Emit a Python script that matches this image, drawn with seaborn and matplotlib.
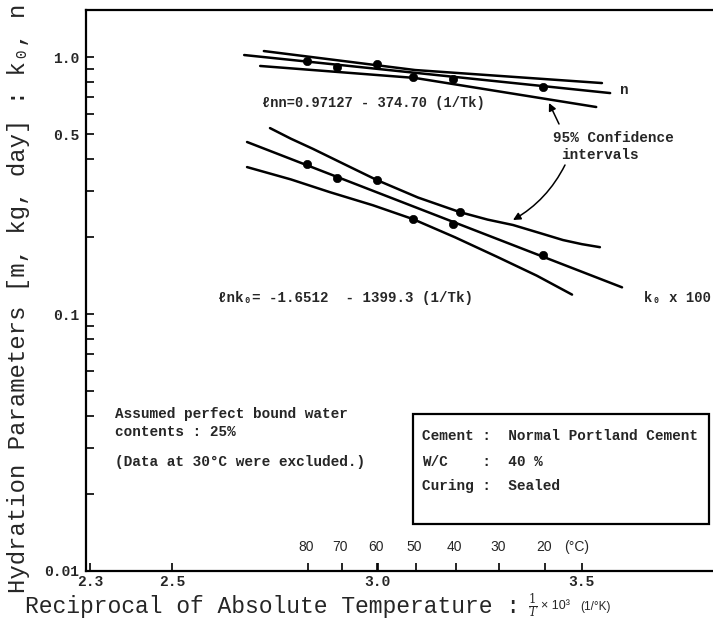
import matplotlib
matplotlib.use("Agg")
import matplotlib.pyplot as plt
import seaborn as sns
import numpy as np
import pandas as pd
from matplotlib.patches import Rectangle
from matplotlib.ticker import FixedLocator, FixedFormatter, NullFormatter
import matplotlib.transforms as mtransforms

# ---------------- data ----------------
temps_c = [80, 70, 60, 50, 40, 30, 20]
temp_labels = ["80", "70", "60", "50", "40", "30", "20"]

# n : measured points
n_x = [2.829, 2.902, 3.000, 3.088, 3.186, 3.405]
n_y = [0.965, 0.914, 0.939, 0.836, 0.821, 0.764]
# n : regression line and 95% confidence limits
n_fit_x = [2.676, 3.569]
n_fit_y = [1.018, 0.724]
n_up_x = [2.724, 3.093, 3.549]
n_up_y = [1.055, 0.890, 0.792]
n_lo_x = [2.715, 3.093, 3.535]
n_lo_y = [0.923, 0.829, 0.639]

# k0 x 100 : measured points
k_x = [2.829, 2.902, 3.000, 3.088, 3.186, 3.203, 3.405]
k_y = [0.384, 0.338, 0.332, 0.234, 0.224, 0.249, 0.170]
# k0 : regression line and 95% confidence limits
k_fit_x = [2.683, 3.598]
k_fit_y = [0.467, 0.127]
k_up_x = [2.739, 2.790, 2.844, 2.920, 3.000, 3.100, 3.203, 3.270, 3.332, 3.400, 3.454, 3.500, 3.544]
k_up_y = [0.529, 0.481, 0.439, 0.383, 0.332, 0.284, 0.249, 0.233, 0.222, 0.206, 0.194, 0.187, 0.182]
k_lo_x = [2.683, 2.790, 2.885, 2.990, 3.088, 3.190, 3.293, 3.390, 3.476]
k_lo_y = [0.373, 0.334, 0.298, 0.265, 0.234, 0.199, 0.167, 0.141, 0.119]

x_major = [2.3, 2.5, 3.0, 3.5]
x_major_labels = ["2.3", "2.5", "3.0", "3.5"]
y_labeled = [0.01, 0.1, 0.5, 1.0]
y_labeled_text = ["0.01", "0.1", "0.5", "1.0"]

# ---------------- style ----------------
sns.set_style("ticks")
MONO = ["Liberation Mono", "DejaVu Sans Mono"]
SANS = ["Liberation Sans", "DejaVu Sans"]
plt.rcParams["font.family"] = MONO
plt.rcParams["mathtext.fontset"] = "dejavuserif"

W, H = 713, 632
fig = plt.figure(figsize=(W / 100, H / 100), dpi=100)
L, T, R, B = 86, 10, 713, 571
ax = fig.add_axes([L / W, 1 - B / H, (R - L) / W, (B - T) / H])

ax.set_yscale("log")
ax.set_xlim(2.29, 3.82)
ax.set_ylim(0.01, 1.524)

lw = 1.8
def line(xs, ys):
    sns.lineplot(x=xs, y=ys, ax=ax, color="black", lw=lw, sort=False,
                 estimator=None, legend=False)

for xs, ys in [(n_fit_x, n_fit_y), (n_up_x, n_up_y), (n_lo_x, n_lo_y),
               (k_fit_x, k_fit_y), (k_up_x, k_up_y), (k_lo_x, k_lo_y)]:
    line(xs, ys)

sns.scatterplot(x=n_x, y=n_y, ax=ax, color="black", s=36, edgecolor="black",
                zorder=5, legend=False)
sns.scatterplot(x=k_x, y=k_y, ax=ax, color="black", s=36, edgecolor="black",
                zorder=5, legend=False)

# ---------------- axes & ticks ----------------
ax.spines["right"].set_visible(False)
for s in ["left", "top", "bottom"]:
    ax.spines[s].set_linewidth(1.6)
    ax.spines[s].set_color("black")

temp_x = [1000.0 / (t + 273.15) for t in temps_c]
ax.xaxis.set_major_locator(FixedLocator(x_major))
ax.xaxis.set_major_formatter(FixedFormatter(x_major_labels))
ax.xaxis.set_minor_locator(FixedLocator(temp_x))
ax.xaxis.set_minor_formatter(NullFormatter())

y_minor = [m * 10.0 ** e for e in (-2, -1) for m in range(2, 10)]
y_minor = [v for v in y_minor if abs(v - 0.5) > 1e-9]
ax.yaxis.set_major_locator(FixedLocator(y_labeled))
ax.yaxis.set_major_formatter(FixedFormatter(y_labeled_text))
ax.yaxis.set_minor_locator(FixedLocator(y_minor))
ax.yaxis.set_minor_formatter(NullFormatter())

ax.tick_params(axis="both", which="both", direction="in", color="black",
               width=1.2, top=False, right=False)
ax.tick_params(axis="both", which="major", length=6)
ax.tick_params(axis="both", which="minor", length=6)
ax.tick_params(axis="y", which="major", pad=5, labelsize=10.5)
ax.tick_params(axis="x", which="major", pad=3, labelsize=10.5)
for lab in ax.get_xticklabels() + ax.get_yticklabels():
    lab.set_fontweight("bold")
    lab.set_family(MONO)

# temperature labels along the bottom
blend = mtransforms.blended_transform_factory(ax.transData, ax.transAxes)
for tx, tl in zip(temp_x, temp_labels):
    ax.text(tx - 0.004, 0.042, tl, transform=blend, ha="center", va="center",
            fontsize=10, family=SANS)
ax.text(3.488, 0.042, "(°C)", transform=blend, ha="center", va="center",
        fontsize=10, family=SANS)

# ---------------- annotations ----------------
def axpx(px, py):
    return ((px - L) / (R - L), (B - py) / (B - T))

txt = dict(transform=ax.transAxes, fontsize=10.4, family=MONO, fontweight="bold",
           va="center")
ax.text(*axpx(262, 103), "ℓnn=0.97127 - 374.70 (1/Tk)", ha="left",
        **dict(txt, fontsize=9.9))
ax.text(*axpx(620, 90), "n", ha="left", **txt)
ax.text(*axpx(613, 138), "95% Confidence", ha="center", **txt)
ax.text(*axpx(600, 155), "intervals", ha="center", **txt)
ax.text(*axpx(218, 298), "ℓnk₀= -1.6512  - 1399.3 (1/Tk)", ha="left",
        **dict(txt, fontsize=10.2))
ax.text(*axpx(711, 298), "k₀ x 100", ha="right", **dict(txt, fontsize=10))
ax.text(*axpx(115, 414), "Assumed perfect bound water", ha="left", **txt)
ax.text(*axpx(115, 432), "contents : 25%", ha="left", **txt)
ax.text(*axpx(115, 462), "(Data at 30°C were excluded.)", ha="left", **txt)

ax.text(*axpx(422, 436), "Cement :  Normal Portland Cement", ha="left", **txt)
ax.text(*axpx(422, 462), "W/C    :  40 %", ha="left", **txt)
ax.text(*axpx(422, 486), "Curing :  Sealed", ha="left", **txt)
bx0, by0 = axpx(413, 524)
bx1, by1 = axpx(709, 414)
ax.add_patch(Rectangle((bx0, by0), bx1 - bx0, by1 - by0, transform=ax.transAxes,
                       fill=False, edgecolor="black", lw=1.6, clip_on=False))

arrow = dict(arrowstyle="-|>", color="black", lw=1.1, mutation_scale=11,
             shrinkA=0, shrinkB=0)
ax.annotate("", xy=axpx(549, 103), xytext=axpx(559, 124),
            xycoords="axes fraction", textcoords="axes fraction",
            arrowprops=arrow)
ax.annotate("", xy=axpx(513, 220), xytext=axpx(565, 165),
            xycoords="axes fraction", textcoords="axes fraction",
            arrowprops=dict(arrow, connectionstyle="arc3,rad=-0.15"))

# ---------------- axis titles ----------------
fig.text(25 / W, 1 - 606 / H, "Reciprocal of Absolute Temperature :",
         fontsize=16.6, family=MONO, ha="left", va="center")
fig.text(533 / W, 1 - 606 / H, r"$\frac{1}{T}$", fontsize=12, ha="center",
         va="center")
fig.text(541 / W, 1 - 606 / H, "× 10³", fontsize=9, family=SANS, ha="left",
         va="center")
fig.text(580 / W, 1 - 607 / H, "(1/°K)", fontsize=8.5, family=SANS, ha="left",
         va="center")
fig.text(19 / W, 1 - 298 / H, "Hydration Parameters [m, kg, day] : k₀, n",
         fontsize=17.2, family=MONO, rotation=90, ha="center", va="center")

fig.savefig("out.png", dpi=100)
